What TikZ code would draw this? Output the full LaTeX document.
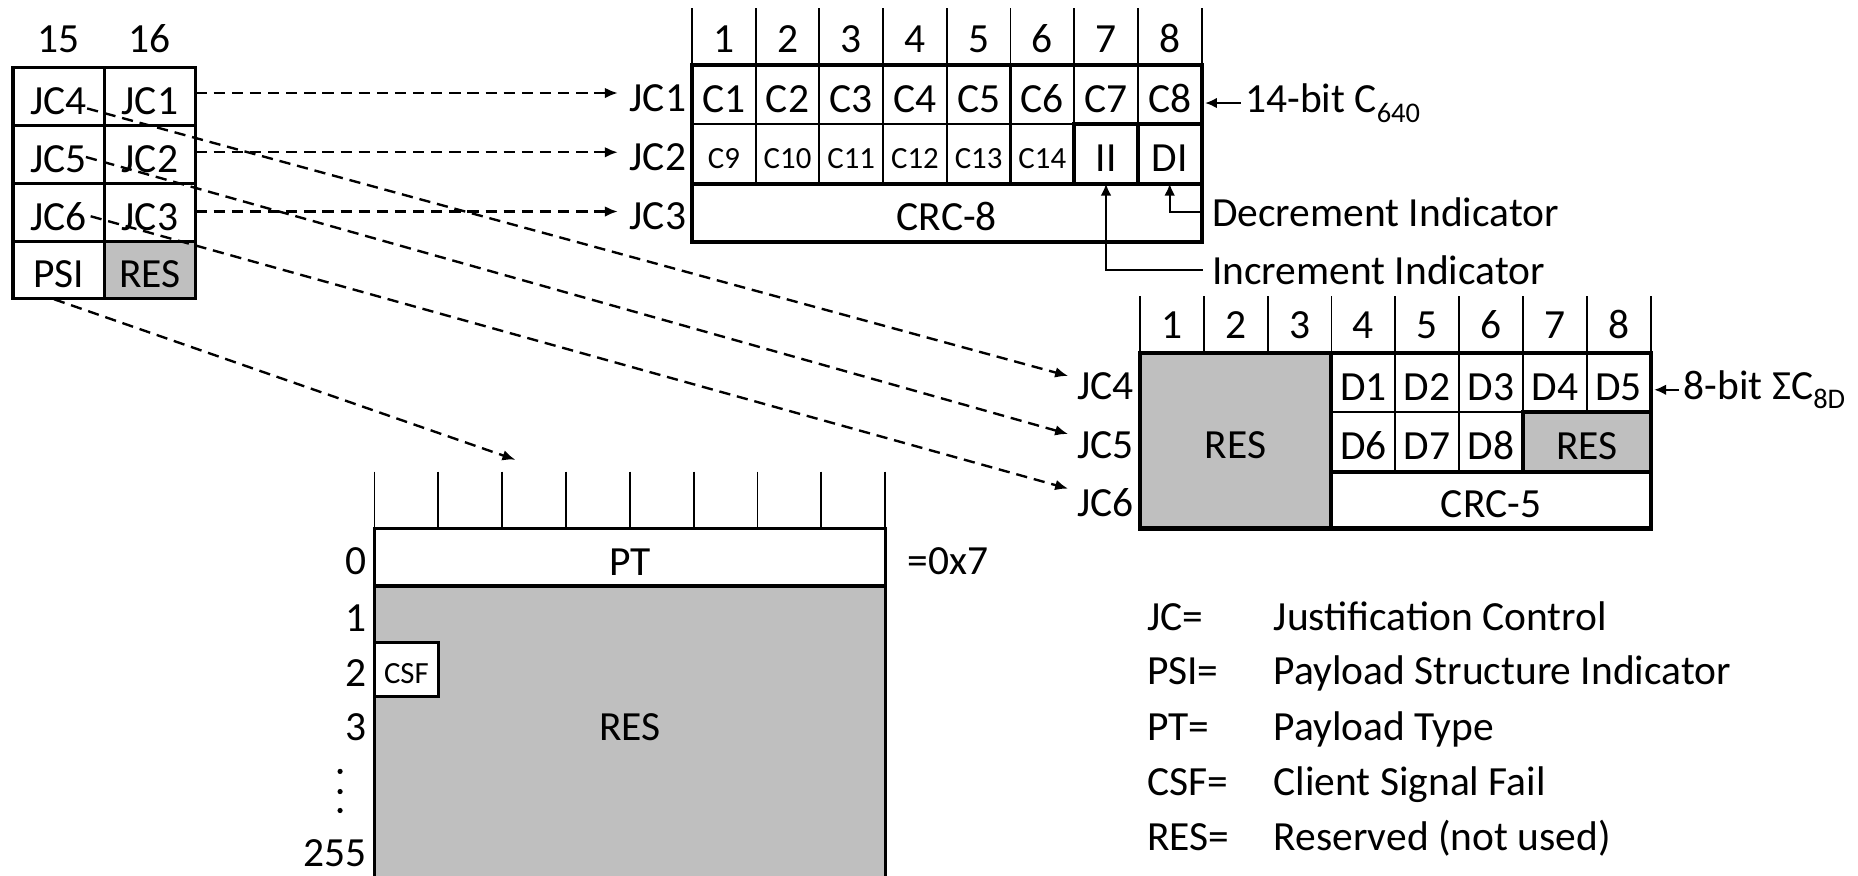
\documentclass[tikz,border=0pt]{standalone}
\usepackage{fontspec}
\setmainfont{Carlito}
\usetikzlibrary{arrows.meta,calc}
\definecolor{resgray}{RGB}{191,191,191}
\begin{document}
\begin{tikzpicture}[x=1pt,y=-1pt,
  big/.style={font=\fontsize{35}{40}\selectfont},
  sml/.style={font=\fontsize{26}{30}\selectfont},
  lab/.style={inner sep=0pt,outer sep=0pt,big},
  ctext/.style={inner sep=0pt,outer sep=0pt,text height=29.5pt,text depth=0pt,big},
  stext/.style={inner sep=0pt,outer sep=0pt,text height=23.7pt,text depth=0pt,sml},
  lcell/.style={ctext,minimum width=77pt,minimum height=49pt},
  tcell/.style={ctext,minimum width=53.75pt,minimum height=50pt},
  tcells/.style={stext,minimum width=53.75pt,minimum height=50pt},
  bcell/.style={ctext,minimum width=53.875pt,minimum height=50pt},
  hdr/.style={line width=1.6pt},
  thn/.style={line width=1.8pt},
  thk/.style={line width=3.4pt},
  tbl/.style={line width=2.6pt},
  darr/.style={line width=2pt,dash pattern=on 9.5pt off 5.8pt,-{Latex[length=11pt,width=9pt]}},
  sarr/.style={line width=1.8pt,-{Latex[length=10pt,width=9pt]}},
]
\useasboundingbox (0,0) rectangle (1568,739);

% ---------- left table ----------
\node[lab,anchor=base] (h15) at (49.5,44.5) {15};
\node[lab,anchor=base] (h16) at (126.5,44.5) {16};
\fill[resgray] (88,204) rectangle (165,252);
\node[lcell] (a1) at (49.5,81.5) {JC4};
\node[lcell] (b1) at (126.5,81.5) {JC1};
\node[lcell] (a2) at (49.5,130.5) {JC5};
\node[lcell] (b2) at (126.5,130.5) {JC2};
\node[lcell] (a3) at (49.5,179.5) {JC6};
\node[lcell] (b3) at (126.5,179.5) {JC3};
\node[lcell] (a4) at (49.5,228) {PSI};
\node[lcell] (b4) at (126.5,228) {RES};
\draw[tbl] (11,57) rectangle (165,252);
\foreach \y in {106,155,204} \draw[tbl] (11,\y) -- (165,\y);
\draw[tbl] (88,57) -- (88,252);

% ---------- top-right table ----------
\foreach \i in {0,...,8} \draw[hdr] ({584+53.75*\i},7) -- ({584+53.75*\i},55);
\foreach \i in {1,...,8} \node[lab,anchor=base] (t\i) at ({584+53.75*(\i-0.5)},44.5) {\i};
\foreach \i in {1,...,8} \node[tcell] (c\i) at ({584+53.75*(\i-0.5)},80) {C\i};
\foreach \i/\k in {1/9,2/10,3/11,4/12,5/13,6/14} \node[tcells] (c\k) at ({584+53.75*(\i-0.5)},130) {C\k};
\node[tcell] (ii) at ({584+53.75*6.5},130) {II};
\node[tcell] (di) at ({584+53.75*7.5},130) {DI};
\node[ctext,minimum width=430pt,minimum height=49pt] (crc8) at (799,179.5) {CRC-8};
\foreach \i in {1,...,7} \draw[thn] ({584+53.75*\i},55) -- ({584+53.75*\i},105);
\foreach \i in {1,...,5} \draw[thn] ({584+53.75*\i},105) -- ({584+53.75*\i},155);
\draw[thn] (584,105) -- (906.5,105);
\draw[thk] (906.5,105) rectangle (1014,155);
\draw[thk] (960.25,105) -- (960.25,155);
\draw[thk] (584,155) -- (1014,155);
\draw[thk] (584,55) rectangle (1014,204);

\node[lab,anchor=base east] (jc1) at (579,94.5) {JC1};
\node[lab,anchor=base east] (jc2) at (579,144) {JC2};
\node[lab,anchor=base east] (jc3) at (579,193.5) {JC3};
\node[lab,anchor=base west] (c640) at (1051,95) {14-bit C\raisebox{-8pt}{\fontsize{24}{24}\selectfont 640}};
\node[lab,anchor=base west] (decr) at (1023,191) {Decrement Indicator};
\node[lab,anchor=base west] (incr) at (1023,240) {Increment Indicator};
\draw[sarr] ([xshift=-4pt]c640.west) -- ($(c640.west -| c8.east)+(3,0)$);
\draw[sarr] ([xshift=-8pt]decr.west) -| (di.south);
\draw[sarr] ([xshift=-8pt]incr.west) -| (ii.south);

% ---------- bottom-right table ----------
\foreach \i in {0,...,8} \draw[hdr] ({962+53.875*\i},250) -- ({962+53.875*\i},298);
\foreach \i in {1,...,8} \node[lab,anchor=base] (u\i) at ({962+53.875*(\i-0.5)},286) {\i};
\fill[resgray] (962,298) rectangle (1123.625,446);
\fill[resgray] (1285.25,348) rectangle (1393,398);
\node[ctext] (resbig) at (1042.8,372) {RES};
\foreach \i/\k in {4/1,5/2,6/3,7/4,8/5} \node[bcell] (d\k) at ({962+53.875*(\i-0.5)},323) {D\k};
\foreach \i/\k in {4/6,5/7,6/8} \node[bcell] (d\k) at ({962+53.875*(\i-0.5)},373) {D\k};
\node[ctext,minimum width=107.75pt,minimum height=50pt] (ressm) at (1339.1,373) {RES};
\node[ctext,minimum width=269.4pt,minimum height=48pt] (crc5) at (1258.3,422) {CRC-5};
\foreach \i in {4,...,7} \draw[thn] ({962+53.875*\i},298) -- ({962+53.875*\i},348);
\foreach \i in {4,5} \draw[thn] ({962+53.875*\i},348) -- ({962+53.875*\i},398);
\draw[thn] (1123.625,348) -- (1285.25,348);
\draw[thk] (1285.25,348) rectangle (1393,398);
\draw[thk] (1123.625,398) -- (1393,398);
\draw[thk] (1123.625,298) -- (1123.625,446);
\draw[thk] (962,298) rectangle (1393,446);

\node[lab,anchor=base east] (jc4) at (957,337) {JC4};
\node[lab,anchor=base east] (jc5) at (957,387) {JC5};
\node[lab,anchor=base east] (jc6) at (957,436) {JC6};
\node[lab,anchor=base west] (sig) at (1421,337) {8-bit ΣC\raisebox{-8pt}{\fontsize{24}{24}\selectfont 8D}};
\draw[sarr] ([xshift=-4pt]sig.west) -- ($(sig.west -| d5.east)+(3,0)$);

% ---------- PT table ----------
\foreach \i in {0,...,8} \draw[hdr] ({316+53.875*\i},398) -- ({316+53.875*\i},446);
\fill[resgray] (316,494.5) rectangle (747,745);
\draw[tbl] (316,745) -- (316,446) -- (747,446) -- (747,745);
\draw[tbl] (316,494.5) -- (747,494.5);
\node[ctext] (pt) at (531.5,470.5) {PT};
\node[ctext] (resp) at (531.5,610.5) {RES};
\node[stext,draw,fill=white,line width=2.2pt,minimum width=54pt,minimum height=46pt,anchor=north west] (csf) at (316,542) {CSF};
\node[lab,anchor=base east] (r0) at (309,485) {0};
\node[lab,anchor=base east] (r1) at (309,533) {1};
\node[lab,anchor=base east] (r2) at (309,579) {2};
\node[lab,anchor=base east] (r3) at (309,625) {3};
\node[lab,anchor=base east] (r255) at (309,731) {255};
\fill (287,651) circle (2.2pt);
\fill (287,668) circle (2.2pt);
\fill (287,684) circle (2.2pt);
\node[lab,anchor=base west] (eq) at (766,485) {=0x7};

% ---------- connectors ----------
\draw[darr] ([yshift=3pt]b1.east) -- ($([yshift=3pt]b1.east -| jc1.west)+(-10,0)$);
\draw[darr] ([yshift=2pt]b2.east) -- ($([yshift=2pt]b2.east -| jc2.west)+(-10,0)$);
\draw[darr] ([yshift=1pt]b3.east) -- ($([yshift=1pt]b3.east -| jc3.west)+(-10,0)$);
\draw[darr] ($(a1.center)+(24,10)$) -- ($(jc4.north west)+(-8,3)$);
\draw[darr] ($(a2.center)+(23,2)$) -- ($(jc5.north west)+(-8,2)$);
\draw[darr] ($(a3.center)+(27,3)$) -- ($(jc6.north west)+(-8,0)$);
\coordinate (psiend) at (435,388);
\draw[darr] ([xshift=-4pt]a4.south) -- (psiend);

% ---------- legend ----------
\node[lab,anchor=base west] (kjc) at (968,532) {JC=};
\node[lab,anchor=base west] (vjc) at (1075,532) {Justification Control};
\node[lab,anchor=base west] (kpsi) at (968,578) {PSI=};
\node[lab,anchor=base west] (vpsi) at (1075,578) {Payload Structure Indicator};
\node[lab,anchor=base west] (kpt) at (968,625) {PT=};
\node[lab,anchor=base west] (vpt) at (1075,625) {Payload Type};
\node[lab,anchor=base west] (kcsf) at (968,671) {CSF=};
\node[lab,anchor=base west] (vcsf) at (1075,671) {Client Signal Fail};
\node[lab,anchor=base west] (kres) at (968,718) {RES=};
\node[lab,anchor=base west] (vres) at (1075,718) {Reserved (not used)};
\end{tikzpicture}
\end{document}
